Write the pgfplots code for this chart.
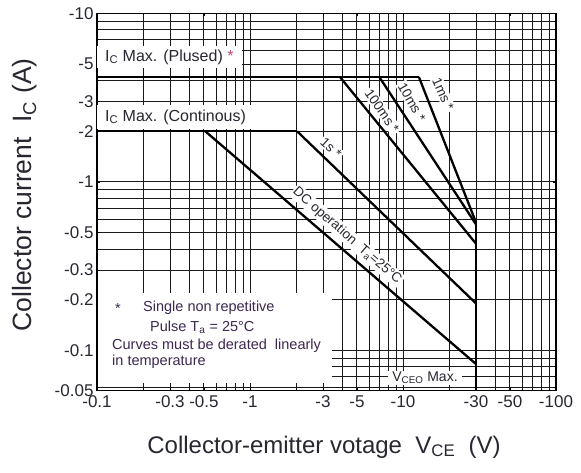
\documentclass[border=0pt]{standalone}
\usepackage{fontspec}
\setmainfont{Liberation Sans}
\usepackage{graphicx}
\usepackage{pgfplots}
\pgfplotsset{compat=1.18}
\definecolor{txt}{RGB}{40,38,48}
\definecolor{note}{RGB}{60,40,80}
\definecolor{star}{RGB}{200,70,120}
\tikzset{
  curve/.style={black, line width=2.3pt, no marks},
  lbl/.style={fill=white, inner sep=1.5pt, text=txt, font=\fontsize{13.5}{13.5}\selectfont},
}
\begin{document}
\begin{tikzpicture}[x=1pt,y=1pt]
\useasboundingbox (0,0) rectangle (581,473);
\begin{axis}[
  at={(97pt,82.5pt)}, anchor=south west,
  width=459pt, height=377pt, scale only axis,
  xmode=log, ymode=log,
  xmin=0.1, xmax=100, ymin=0.0578, ymax=10,
  xtick={0.1,0.3,0.5,1,3,5,10,30,50,100},
  xticklabels={-0.1,-0.3,-0.5,-1,-3,-5,-10,-30,-50,-100},
  ytick={0.0578,0.1,0.2,0.3,0.5,1,2,3,5,10},
  yticklabels={-0.05,-0.1,-0.2,-0.3,-0.5,-1,-2,-3,-5,-10},
  minor xtick={0.2,0.4,0.6,0.7,0.8,0.9,2,4,6,7,8,9,20,40,60,70,80,90},
  minor ytick={0.06,0.07,0.08,0.09,0.4,0.6,0.7,0.8,0.9,4,6,7,8,9},
  grid=both,
  major grid style={black!90, line width=0.9pt},
  minor grid style={black!90, line width=0.9pt},
  axis line style={black, line width=1.3pt},
  tick style={black, line width=0.8pt},
  major tick length=3pt, minor tick length=2pt,
  tick label style={font=\fontsize{17}{17}\selectfont, text=txt},
  xticklabel style={yshift=-2pt},
  /pgf/number format/assume math mode=true,
]
% white label boxes (drawn over the grid, under the curves)
\node[lbl, anchor=west, inner xsep=8pt, inner ysep=4pt, font=\fontsize{16}{16}\selectfont] at (rel axis cs:0,0.8846) {I\textsubscript{C} Max. (Plused) \textcolor{star}{*}};
\node[lbl, anchor=west, inner xsep=8pt, inner ysep=5pt, font=\fontsize{16}{16}\selectfont] at (rel axis cs:0,0.7255) {I\textsubscript{C} Max. (Continous)};
\fill[white] (rel axis cs:0.003,0.02) rectangle (rel axis cs:0.512,0.2586);
\node[anchor=center, text=note, font=\fontsize{14.5}{14.5}\selectfont] at (rel axis cs:0.0458,0.2188) {*};
\node[anchor=west, text=note, font=\fontsize{14.5}{14.5}\selectfont, inner sep=0pt] at (rel axis cs:0.1002,0.2188) {Single non repetitive};
\node[anchor=west, text=note, font=\fontsize{14.5}{14.5}\selectfont, inner sep=0pt] at (rel axis cs:0.1155,0.1684) {Pulse T\textsubscript{a} = 25°C};
\node[anchor=west, text=note, font=\fontsize{14.5}{14.5}\selectfont, inner sep=0pt] at (rel axis cs:0.0327,0.118) {Curves must be derated\ \ linearly};
\node[anchor=west, text=note, font=\fontsize{14.5}{14.5}\selectfont, inner sep=0pt] at (rel axis cs:0.0327,0.0756) {in temperature};
\node[lbl, inner xsep=4pt, font=\fontsize{14}{14}\selectfont] at (rel axis cs:0.7146,0.0332) {V\textsubscript{CEO} Max.};
\node[lbl, rotate=-43] at (rel axis cs:0.51,0.643) {1s *};
\node[lbl, rotate=-55] at (rel axis cs:0.621,0.741) {100ms *};
\node[lbl, rotate=-60] at (rel axis cs:0.686,0.765) {10ms *};
\node[lbl, rotate=-66] at (rel axis cs:0.754,0.786) {1ms *};
\node[lbl, rotate=-41] at (rel axis cs:0.545,0.41) {DC operation\ \ T\textsubscript{a}=25°C};
% curves
\addplot[curve] coordinates {(0.1,4.2) (12.7,4.2)};
\addplot[curve] coordinates {(12.7,4.2) (30,0.575)};
\addplot[curve] coordinates {(7,4.2) (30,0.56)};
\addplot[curve] coordinates {(3.87,4.2) (30,0.43)};
\addplot[curve] coordinates {(0.1,2) (2.03,2)};
\addplot[curve] coordinates {(2.03,2) (30,0.19)};
\addplot[curve] coordinates {(0.51,2) (30,0.083)};
\addplot[curve] coordinates {(30,0.575) (30,0.0578)};
\end{axis}
\node[rotate=90, text=txt, font=\fontsize{26.5}{26.5}\selectfont] at (25,278) {Collector current\ \ I\textsubscript{C} (A)};
\node[text=txt, font=\fontsize{24}{24}\selectfont] at (324,26) {Collector-emitter votage\ \ V\textsubscript{CE}\ \ (V)};
\end{tikzpicture}
\end{document}
